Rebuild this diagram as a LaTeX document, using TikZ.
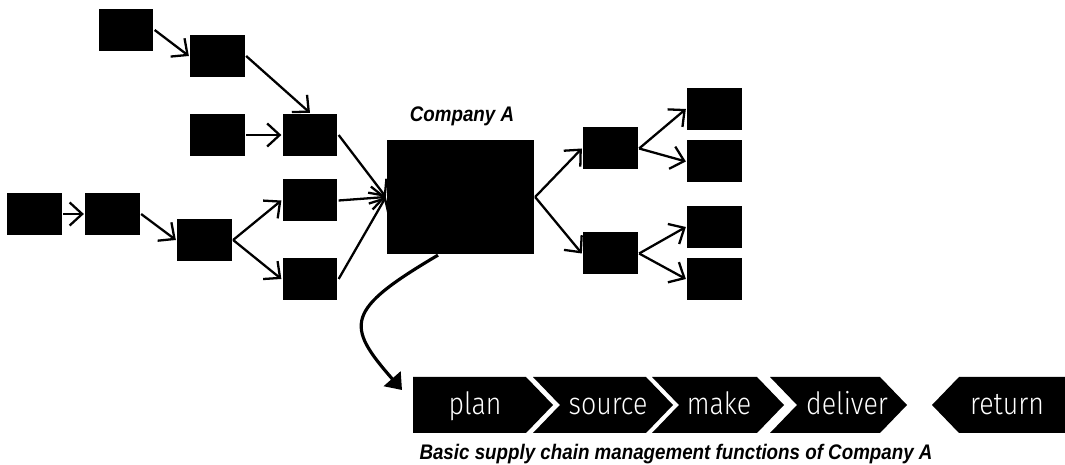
\documentclass[tikz,border=0pt]{standalone}
\usepackage{fontspec}
\setmainfont{Liberation Sans}
\newfontfamily\capfont[FakeStretch=0.89]{Liberation Sans}
\newfontfamily\chevfont[FakeStretch=0.87]{Fira Sans Light}
\usetikzlibrary{arrows.meta,calc}

\begin{document}
\begin{tikzpicture}[x=0.02cm, y=-0.02cm, line width=1.3pt,
  blk/.style={fill=black,inner sep=0pt,minimum width=1.1cm,minimum height=0.84cm},
  firm/.style={fill=black,inner sep=0pt,minimum width=2.94cm,minimum height=2.28cm},
  flow/.style={-{Straight Barb[length=2.5mm,width=4.6mm]}},
  chev/.style={font=\chevfont\fontsize{17.5}{20}\selectfont,text=white,anchor=base,inner sep=0pt},
  note/.style={font=\capfont\bfseries\itshape\fontsize{12}{14}\selectfont,anchor=base,inner sep=0pt}]
\useasboundingbox (0,0) rectangle (1065,465);
\node[blk] (s1) at (126,30) {};
\node[blk] (s2) at (217.5,56) {};
\node[blk] (s3) at (217.5,135) {};
\node[blk] (s4) at (310,135) {};
\node[blk] (s5) at (310,200.5) {};
\node[blk] (s6) at (310,279) {};
\node[blk] (s7) at (34.5,214) {};
\node[blk] (s8) at (112.5,214) {};
\node[blk] (s9) at (204.5,240) {};
\node[firm] (ca) at (460.5,197) {};
\node[note] (catxt) at (462,122) {Company A};
\node[blk] (d1) at (610.5,148.5) {};
\node[blk] (d2) at (610.5,253.5) {};
\node[blk] (c1) at (714.5,109) {};
\node[blk] (c2) at (714.5,161.5) {};
\node[blk] (c3) at (714.5,227) {};
\node[blk] (c4) at (714.5,279) {};
\draw[flow] (s1.east) -- (s2.west);
\draw[flow] (s2.east) -- (s4.north);
\draw[flow] (s3.east) -- (s4.west);
\draw[flow] (s7.east) -- (s8.west);
\draw[flow] (s8.east) -- (s9.west);
\draw[flow] (s9.east) -- (s5.west);
\draw[flow] (s9.east) -- (s6.west);
\draw[flow] (s4.east) -- (ca.west);
\draw[flow] (s5.east) -- (ca.west);
\draw[flow] (s6.east) -- (ca.west);
\draw[flow] (ca.east) -- (d1.west);
\draw[flow] (ca.east) -- (d2.west);
\draw[flow] (d1.east) -- (c1.west);
\draw[flow] (d1.east) -- (c2.west);
\draw[flow] (d2.east) -- (c3.west);
\draw[flow] (d2.east) -- (c4.west);
\fill (413,377) -- (526,377) -- (553,405) -- (526,433) -- (413,433) -- cycle;
\fill (533,377) -- (646,377) -- (673,405) -- (646,433) -- (533,433) -- (560,405) -- cycle;
\fill (652,377) -- (757,377) -- (784,405) -- (757,433) -- (652,433) -- (679,405) -- cycle;
\fill (770,377) -- (880,377) -- (907,405) -- (880,433) -- (770,433) -- (797,405) -- cycle;
\fill (932,405) -- (959,377) -- (1065,377) -- (1065,433) -- (959,433) -- cycle;
\node[chev] (plan) at (475,415) {plan};
\node[chev] (src) at (608,415) {source};
\node[chev] (make) at (719,415) {make};
\node[chev] (dlv) at (847,415) {deliver};
\node[chev] (ret) at (1007,415) {return};
\coordinate (scm) at (402,390);
\draw[line width=1.8pt,-{Triangle[length=3mm,width=4.4mm]}] ($(ca.south)+(-22.5,0)$) .. controls (345,310) and (345,325) .. (scm);
\node[note] (captxt) at (676,460) {Basic supply chain management functions of Company A};
\end{tikzpicture}
\end{document}
